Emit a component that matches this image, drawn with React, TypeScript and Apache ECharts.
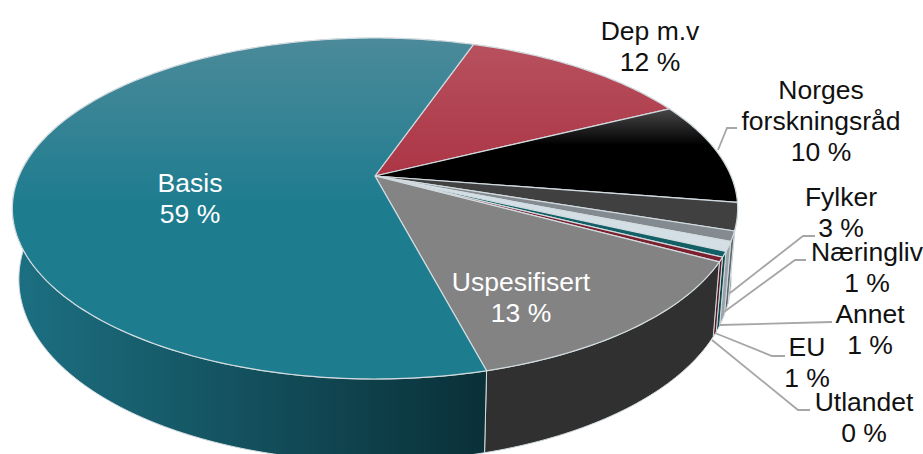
import React, { useEffect, useRef } from "react";
import * as echarts from "echarts";

// Data, clockwise from the Dep m.v edge
const categories = ["Dep m.v", "Norges\nforskningsråd", "Fylker", "Næringliv", "Annet", "EU", "Utlandet", "Uspesifisert", "Basis"];
const shares = [12.4, 9.8, 2.6, 0.95, 0.9, 0.52, 0.42, 13.0, 59.4];
const firstSliceAngle = 19.05;

// Style lists, same order as categories
const topStops = [
  ["#b8525f", "#a92f40"], ["#4a4a4a", "#000000"], ["#4a4a4a", "#404040"], ["#9aa2a6", "#838b90"],
  ["#e4ecf0", "#d3dfe5"], ["#125f66", "#125f66"], ["#7c1f2e", "#7c1f2e"], ["#8c8c8c", "#838383"], ["#4b8a9a", "#1e7c8f"],
];
const wallStops = [
  ["#7c1f2e", "#7c1f2e"], ["#000000", "#000000"], ["#383838", "#2e2e2e"], ["#6c7478", "#60686c"],
  ["#a3adb2", "#98a2a8"], ["#0e474c", "#0e474c"], ["#5a1822", "#5a1822"], ["#3a3a3a", "#303030"], ["#1c7082", "#0a3038"],
];
const labelColors = ["#111", "#111", "#111", "#111", "#111", "#111", "#111", "#fff", "#fff"];

// Layout
const W = 923, H = 454;
const CX = 375, CY = 176, A = 356, B = 164.3, P = -0.1906;
const SHRINK = 0.982, H0 = 68, H1 = 14.5;
const EDGE = "#d2dbdf";
const FONT = '"Liberation Sans", Arial, sans-serif';
const labelCenters = [
  [650, 46.5], [821, 120.5], [841, 212.5], [867, 267.5], [870, 329], [807, 362.5], [864, 417.5], [521, 297], [190, 198.5],
];
const leaders = [
  null,
  [[718, 150], [727, 128], [737, 128]],
  [[730, 293], [803, 236], [815, 236]],
  [[724, 312], [795, 260], [806, 260]],
  [[720, 325], [832, 322]],
  [[715, 333], [772, 356], [785, 356]],
  [[712, 340], [798, 410], [810, 410]],
  null,
  null,
];

function rad(t: number) { return (t * Math.PI) / 180; }
function topPoint(t: number) {
  const u = Math.sin(rad(t)), v = -Math.cos(rad(t));
  const w = 1 + P * v;
  return [CX + (A * u) / w, CY + (B * v) / w];
}
function bottomPoint(t: number) {
  const [x, y] = topPoint(t);
  const v = -Math.cos(rad(t));
  return [CX + (x - CX) * SHRINK, y + H0 + H1 * v];
}
const total = shares.reduce((a, b) => a + b, 0);
const starts: number[] = [];
shares.reduce((acc, s, i) => { starts[i] = acc; return acc + (s / total) * 360; }, firstSliceAngle);
function arcAngles(i: number) {
  const a0 = starts[i], a1 = a0 + (shares[i] / total) * 360;
  const n = Math.max(2, Math.ceil(a1 - a0));
  return Array.from({ length: n + 1 }, (_, k) => a0 + ((a1 - a0) * k) / n);
}

function renderWall(params: any) {
  const i = params.dataIndex;
  const ang = arcAngles(i);
  const pts = [...ang.map(topPoint), ...ang.slice().reverse().map(bottomPoint)];
  return {
    type: "polygon",
    shape: { points: pts },
    style: {
      fill: { type: "linear", x: 12, y: 0, x2: 485, y2: 0, global: true,
        colorStops: [{ offset: 0, color: wallStops[i][0] }, { offset: 1, color: wallStops[i][1] }] },
      stroke: EDGE, lineWidth: 1,
    },
  };
}
function renderTop(params: any) {
  const i = params.dataIndex;
  const pts = [[CX, CY], ...arcAngles(i).map(topPoint)];
  const black = i === 1;
  return {
    type: "polygon",
    shape: { points: pts },
    style: {
      fill: { type: "linear", x: 0, y: black ? 108 : 38, x2: 0, y2: black ? 145 : 205, global: true,
        colorStops: [{ offset: 0, color: topStops[i][0] }, { offset: 1, color: topStops[i][1] }] },
      stroke: EDGE, lineWidth: 1.2,
    },
  };
}

export default function App() {
  const ref = useRef<HTMLDivElement>(null);
  useEffect(() => {
    const chart = echarts.init(ref.current!, null, { renderer: "svg" });
    const data = shares.map((s, i) => ({ name: categories[i], value: s }));
    const graphics: any[] = [];
    leaders.forEach((pts) => {
      if (pts) graphics.push({ type: "polyline", z: 5, shape: { points: pts }, style: { stroke: "#a6a6a6", lineWidth: 1.8, fill: "none" } });
    });
    categories.forEach((c, i) => {
      graphics.push({
        type: "text", z: 6, x: labelCenters[i][0], y: labelCenters[i][1],
        style: { text: `${c}\n${Math.round(shares[i])} %`, fill: labelColors[i], font: `26.5px ${FONT}`,
          lineHeight: 31, align: "center", verticalAlign: "middle" },
      });
    });
    chart.setOption({
      animation: false,
      backgroundColor: "#fff",
      series: [
        { type: "custom", coordinateSystem: "none", z: 1, data, renderItem: renderWall, silent: true },
        { type: "custom", coordinateSystem: "none", z: 2, data, renderItem: renderTop, silent: true },
      ],
      graphic: graphics,
    });
    return () => chart.dispose();
  }, []);
  return <div ref={ref} style={{ position: "absolute", left: 0, top: 0, width: W, height: H }} />;
}
